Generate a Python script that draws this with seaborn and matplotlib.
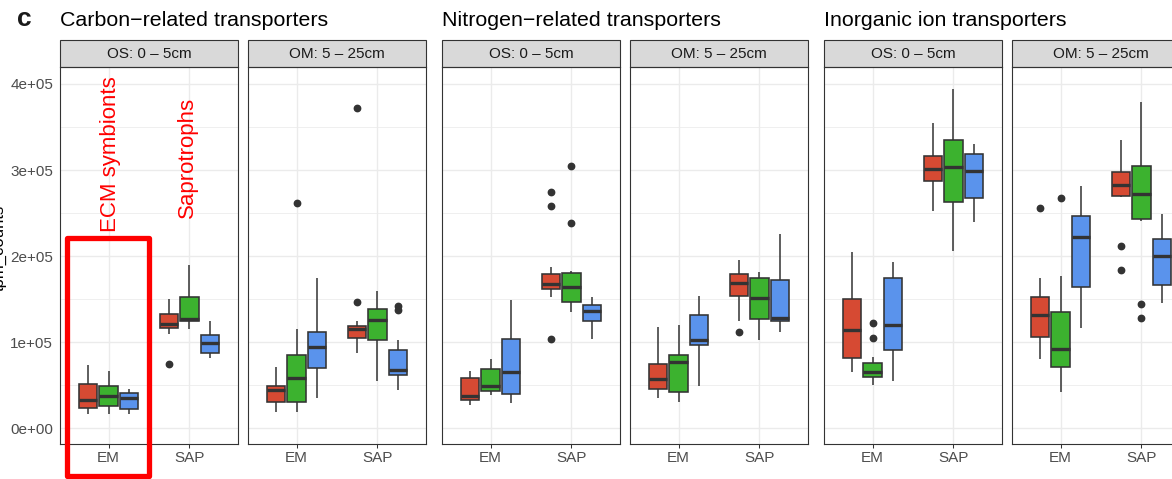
import numpy as np
import pandas as pd
import matplotlib
matplotlib.use("Agg")
import matplotlib.pyplot as plt
import seaborn as sns
from matplotlib.patches import Rectangle

sns.set_theme(style="white")
plt.rcParams['font.family'] = ['Liberation Sans', 'DejaVu Sans']

# ---------------- data (values in units of 1e5 tpm) ----------------
groups = ["Carbon\u2212related transporters", "Nitrogen\u2212related transporters",
          "Inorganic ion transporters"]
depths = ["OS: 0 \u2013 5cm", "OM: 5 \u2013 25cm"]
guilds = ["EM", "SAP"]
hues = ["Group 1", "Group 2", "Group 3"]
colors = ["#D64A33", "#3CB22F", "#5A93EC"]
yticks = [0, 1e5, 2e5, 3e5, 4e5]
ytick_labels = ["0e+00", "1e+05", "2e+05", "3e+05", "4e+05"]

# box order per panel: EM(g1,g2,g3), SAP(g1,g2,g3); (low whisker, q1, median, q3, high whisker)
carbon_os_stats = [(0.17, 0.24, 0.33, 0.52, 0.74), (0.17, 0.26, 0.37, 0.49, 0.67),
                   (0.17, 0.22, 0.35, 0.41, 0.455), (1.09, 1.16, 1.21, 1.33, 1.50),
                   (1.15, 1.25, 1.27, 1.52, 1.90), (0.82, 0.87, 0.99, 1.08, 1.25)]
carbon_os_out = [[], [], [], [0.75], [], []]
carbon_om_stats = [(0.19, 0.30, 0.44, 0.49, 0.71), (0.19, 0.30, 0.58, 0.85, 1.15),
                   (0.35, 0.70, 0.95, 1.12, 1.74), (0.875, 1.05, 1.15, 1.19, 1.25),
                   (0.545, 1.02, 1.26, 1.39, 1.60), (0.45, 0.62, 0.68, 0.91, 1.02)]
carbon_om_out = [[], [2.62], [], [1.47, 3.72], [], [1.37, 1.42]]
nitrogen_os_stats = [(0.265, 0.33, 0.37, 0.59, 0.66), (0.385, 0.435, 0.49, 0.69, 0.805),
                     (0.29, 0.40, 0.65, 1.04, 1.49), (1.53, 1.62, 1.68, 1.79, 1.87),
                     (1.35, 1.47, 1.64, 1.805, 1.83), (1.04, 1.25, 1.36, 1.43, 1.53)]
nitrogen_os_out = [[], [], [], [1.04, 2.58, 2.74], [2.39, 3.05], []]
nitrogen_om_stats = [(0.35, 0.455, 0.57, 0.75, 1.175), (0.30, 0.42, 0.77, 0.85, 1.195),
                     (0.49, 0.965, 1.03, 1.315, 1.54), (1.245, 1.54, 1.69, 1.79, 1.96),
                     (1.03, 1.27, 1.51, 1.74, 1.82), (1.12, 1.245, 1.28, 1.72, 2.26)]
nitrogen_om_out = [[], [], [], [1.12], [], []]
inorganic_os_stats = [(0.65, 0.82, 1.14, 1.50, 2.05), (0.505, 0.595, 0.65, 0.76, 0.825),
                      (0.545, 0.915, 1.20, 1.74, 1.93), (2.52, 2.87, 3.015, 3.16, 3.55),
                      (2.06, 2.63, 3.04, 3.35, 3.94), (2.40, 2.67, 2.99, 3.19, 3.30)]
inorganic_os_out = [[], [1.05, 1.225], [], [], [], []]
inorganic_om_stats = [(0.805, 1.06, 1.32, 1.53, 1.74), (0.42, 0.71, 0.925, 1.355, 1.77),
                      (1.17, 1.64, 2.22, 2.47, 2.81), (2.69, 2.70, 2.83, 2.98, 3.35),
                      (2.41, 2.43, 2.72, 3.05, 3.79), (1.45, 1.66, 2.00, 2.20, 2.49)]
inorganic_om_out = [[2.56], [2.67], [], [1.84, 2.12], [1.28, 1.44], []]

panels = [
    (0, 0, carbon_os_stats, carbon_os_out), (0, 1, carbon_om_stats, carbon_om_out),
    (1, 0, nitrogen_os_stats, nitrogen_os_out), (1, 1, nitrogen_om_stats, nitrogen_om_out),
    (2, 0, inorganic_os_stats, inorganic_os_out), (2, 1, inorganic_om_stats, inorganic_om_out),
]


def sample_from_stats(st, outs):
    """Sample whose box-plot statistics equal the read-off five numbers + outliers."""
    lo, q1, med, q3, hi = st
    low_out = sorted(o for o in outs if o < lo)
    high_out = sorted(o for o in outs if o > hi)
    vals = low_out + [lo] + [q1] * 6 + [med] * 5 + [q3] * 6 + [hi] + high_out
    return [v * 1e5 for v in vals]


rows = []
for gi, di, stats, outs in panels:
    for bi, (st, ou) in enumerate(zip(stats, outs)):
        for v in sample_from_stats(st, ou):
            rows.append(dict(group=groups[gi], depth=depths[di], guild=guilds[bi // 3],
                             hue=hues[bi % 3], tpm_counts=v))
df = pd.DataFrame(rows)

# ---------------- layout ----------------
W, H = 1172, 479
fig = plt.figure(figsize=(W / 100, H / 100), dpi=100)
fig.patch.set_facecolor("white")

panel_x = [60, 248, 442, 630, 824, 1012]
panel_w = 178
p_top, p_bot = 67, 444
strip_h = 27
px_per_unit = 86.1
zero_y = 428.3
ylim = (-(p_bot - zero_y) / px_per_unit * 1e5, (zero_y - p_top) / px_per_unit * 1e5)

axes = []
for k, (gi, di, stats, outs) in enumerate(panels):
    ax = fig.add_axes([panel_x[k] / W, 1 - p_bot / H, panel_w / W, (p_bot - p_top) / H])
    axes.append(ax)
    sub = df[(df.group == groups[gi]) & (df.depth == depths[di])]
    sns.boxplot(data=sub, x="guild", y="tpm_counts", hue="hue", order=guilds,
                hue_order=hues, palette=colors, width=0.75, gap=0.1, saturation=1,
                linecolor="#333333", linewidth=1.15, legend=False, ax=ax,
                capwidths=0,
                medianprops=dict(linewidth=2.4, color="#333333"),
                whiskerprops=dict(linewidth=1.1, color="#333333"),
                flierprops=dict(marker="o", markerfacecolor="#333333",
                                markeredgecolor="#333333", markersize=4.6))
    ax.set_xlim(-0.6, 1.6)
    ax.set_ylim(*ylim)
    ax.set_xlabel("")
    ax.set_ylabel("")
    ax.set_yticks(yticks)
    ax.set_yticks([0.5e5, 1.5e5, 2.5e5, 3.5e5], minor=True)
    ax.set_xticks([0, 1])
    ax.set_xticklabels(guilds)
    ax.set_axisbelow(True)
    ax.grid(which="major", color="#EBEBEB", linewidth=1.0)
    ax.grid(which="minor", axis="y", color="#EBEBEB", linewidth=0.55)
    ax.tick_params(which="minor", length=0)
    ax.tick_params(axis="both", which="major", length=3.2, width=0.75, color="#333333",
                   labelsize=11, labelcolor="#4D4D4D", pad=1.8)
    if k == 0:
        ax.set_yticklabels(ytick_labels)
    else:
        ax.tick_params(axis="y", left=False, labelleft=False)
    ax.tick_params(axis="x", bottom=True)
    for s in ax.spines.values():
        s.set_color("#333333")
        s.set_linewidth(0.8)
    # strip
    sh = strip_h / (p_bot - p_top)
    ax.add_patch(Rectangle((0, 1), 1, sh, transform=ax.transAxes, clip_on=False,
                           facecolor="#D9D9D9", edgecolor="#333333", linewidth=0.8))
    ax.text(0.5, 1 + sh / 2, depths[di], transform=ax.transAxes, ha="center",
            va="center", fontsize=11, color="#1A1A1A")

# group titles
for gi, xp in zip(range(3), [60, 442, 824]):
    fig.text(xp / W, 1 - 26 / H, groups[gi], ha="left", va="baseline",
             fontsize=15.4, color="black")
fig.text(17 / W, 1 - 26 / H, "c", ha="left", va="baseline", fontsize=19,
         fontweight="bold", color="#1A1A1A")

# y-axis title (partly cut off at the left edge, as in the reference)
fig.text(4 / W, 1 - 248 / H, "tpm_counts", rotation=90, rotation_mode="anchor",
         ha="center", va="baseline", fontsize=12, color="black")

# red annotations
ax0 = axes[0]
ax0.text(0.092, 2.28e5, "ECM symbionts", rotation=90, rotation_mode="anchor",
         ha="left", va="baseline", color="#FF0000", fontsize=16, clip_on=False)
ax0.text(1.044, 2.44e5, "Saprotrophs", rotation=90, rotation_mode="anchor",
         ha="left", va="baseline", color="#FF0000", fontsize=16, clip_on=False)
fig.patches.append(Rectangle((67 / W, 1 - 475.5 / H), (149 - 67) / W, (475.5 - 238) / H,
                             transform=fig.transFigure, fill=False, edgecolor="#FF0000",
                             linewidth=3.8, joinstyle="round", figure=fig))

fig.savefig("out.png", dpi=100)
